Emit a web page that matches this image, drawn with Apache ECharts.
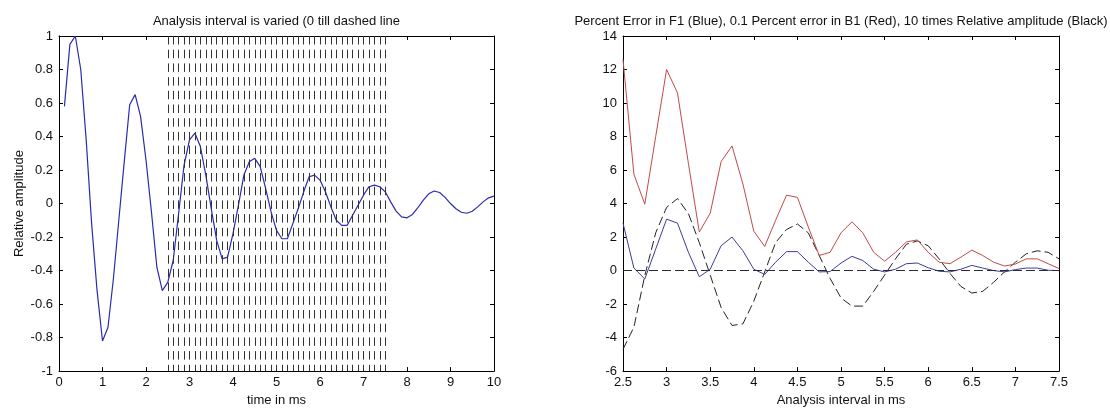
<!DOCTYPE html>
<html>
<head>
<meta charset="utf-8">
<script src="https://cdn.jsdelivr.net/npm/echarts@6/dist/echarts.min.js"></script>
<style>
html,body{margin:0;padding:0;background:#fff;}
#chart{width:1110px;height:412px;}
</style>
</head>
<body>
<div id="chart"></div>
<script>
// ---- Left panel data ----
const leftTitle = 'Analysis interval is varied (0 till dashed line';
const timeMs = [0.125,0.25,0.375,0.5,0.625,0.75,0.875,1,1.125,1.25,1.375,1.5,1.625,1.75,1.875,2,
  2.125,2.25,2.375,2.5,2.625,2.75,2.875,3,3.125,3.25,3.375,3.5,3.625,3.75,3.875,4,
  4.125,4.25,4.375,4.5,4.625,4.75,4.875,5,5.125,5.25,5.375,5.5,5.625,5.75,5.875,6,
  6.125,6.25,6.375,6.5,6.625,6.75,6.875,7,7.125,7.25,7.375,7.5,7.625,7.75,7.875,8,
  8.125,8.25,8.375,8.5,8.625,8.75,8.875,9,9.125,9.25,9.375,9.5,9.625,9.75,9.875,10];
const relAmplitude = [0.58,0.95,1.00,0.80,0.38,-0.12,-0.52,-0.82,-0.74,-0.45,-0.10,0.25,0.59,0.65,0.52,0.26,
  -0.05,-0.38,-0.52,-0.47,-0.34,-0.06,0.23,0.38,0.42,0.34,0.17,-0.03,-0.22,-0.33,-0.32,-0.18,
  -0.01,0.17,0.25,0.27,0.22,0.09,-0.05,-0.16,-0.21,-0.21,-0.12,-0.03,0.07,0.16,0.17,0.14,
  0.07,-0.02,-0.10,-0.13,-0.13,-0.07,-0.01,0.05,0.10,0.11,0.10,0.07,0.01,-0.045,-0.08,-0.085,
  -0.065,-0.025,0.02,0.058,0.075,0.066,0.037,0.0,-0.031,-0.052,-0.058,-0.046,-0.02,0.01,0.034,0.044];
const intervalEnds = [2.5,2.625,2.75,2.875,3,3.125,3.25,3.375,3.5,3.625,3.75,3.875,4,4.125,4.25,4.375,
  4.5,4.625,4.75,4.875,5,5.125,5.25,5.375,5.5,5.625,5.75,5.875,6,6.125,6.25,6.375,
  6.5,6.625,6.75,6.875,7,7.125,7.25,7.375,7.5];

// ---- Right panel data ----
const rightTitle = 'Percent Error in F1 (Blue), 0.1 Percent error in B1 (Red), 10 times Relative amplitude (Black)';
const analysisMs = [2.5,2.625,2.75,2.875,3,3.125,3.25,3.375,3.5,3.625,3.75,3.875,4,4.125,4.25,4.375,
  4.5,4.625,4.75,4.875,5,5.125,5.25,5.375,5.5,5.625,5.75,5.875,6,6.125,6.25,6.375,
  6.5,6.625,6.75,6.875,7,7.125,7.25,7.375,7.5];
const b1ErrorTenth = [12.6,5.75,3.96,8.0,12.0,10.6,6.4,2.3,3.42,6.5,7.44,5.17,2.35,1.44,3.0,4.5,
  4.37,2.6,0.9,1.09,2.25,2.91,2.25,1.09,0.56,1.09,1.71,1.83,1.09,0.5,0.41,0.8,
  1.22,0.9,0.5,0.27,0.39,0.7,0.7,0.41,0.12];
const f1Error = [2.83,0.15,-0.5,1.28,3.07,2.83,1.09,-0.37,0.08,1.48,2.0,1.18,0.08,-0.23,0.5,1.13,
  1.13,0.5,-0.08,-0.06,0.45,0.85,0.6,0.08,-0.08,0.08,0.41,0.45,0.17,-0.04,-0.08,0.08,
  0.31,0.15,0.0,-0.08,0.06,0.15,0.15,0.02,0.0];
const amplitudeTimes10 = [-4.7,-3.38,-0.3,2.25,3.77,4.3,3.4,1.67,-0.27,-2.2,-3.28,-3.18,-1.83,-0.08,1.67,2.45,
  2.78,2.25,0.9,-0.47,-1.63,-2.12,-2.12,-1.24,-0.27,0.7,1.57,1.77,1.48,0.7,-0.17,-0.95,
  -1.34,-1.24,-0.7,-0.08,0.5,1.0,1.18,1.09,0.7];

const leftXTicks = {min: 0, max: 10, interval: 1};
const leftYTicks = {min: -1, max: 1, interval: 0.2};
const rightXTicks = {min: 2.5, max: 7.5, interval: 0.5};
const rightYTicks = {min: -6, max: 14, interval: 2};

// ---- build ----
const FONT = '"Liberation Sans", Arial, Helvetica, sans-serif';
const FS = 13;
const TXT = '#111';
const pairs = (xs, ys) => xs.map((x, i) => [x, ys[i]]);
const fmt = v => String(+(+v).toFixed(2));

function axisPair(gridIndex, ticks, kind, name, nameGap) {
  const base = {
    type: 'value', gridIndex, min: ticks.min, max: ticks.max, interval: ticks.interval,
    axisLine: {show: true, onZero: false, lineStyle: {color: '#000', width: 1}},
    axisTick: {show: true, inside: true, length: 4, lineStyle: {color: '#000', width: 1}},
    splitLine: {show: false}
  };
  const main = Object.assign({}, base, {
    position: kind === 'x' ? 'bottom' : 'left',
    axisLabel: {show: true, color: TXT, fontFamily: FONT, fontSize: FS, margin: kind === 'x' ? 5 : 6, formatter: fmt,
      showMinLabel: true, showMaxLabel: true},
    name: name, nameLocation: 'middle', nameGap: nameGap,
    nameTextStyle: {color: TXT, fontFamily: FONT, fontSize: FS}
  });
  const mirror = Object.assign({}, base, {
    position: kind === 'x' ? 'top' : 'right',
    axisLabel: {show: false}
  });
  return [main, mirror];
}

const [lx0, lx1] = axisPair(0, leftXTicks, 'x', 'time in ms', 21);
const [ly0, ly1] = axisPair(0, leftYTicks, 'y', 'Relative amplitude', 33);
const [rx0, rx1] = axisPair(1, rightXTicks, 'x', 'Analysis interval in ms', 21);
const [ry0, ry1] = axisPair(1, rightYTicks, 'y', '', 30);

const option = {
  animation: false,
  backgroundColor: '#fff',
  textStyle: {fontFamily: FONT},
  grid: [
    {left: 59, top: 36, width: 435, height: 342, containLabel: false},
    {left: 623, top: 36, width: 436, height: 342, containLabel: false}
  ],
  xAxis: [lx0, lx1, rx0, rx1],
  yAxis: [ly0, ly1, ry0, ry1],
  graphic: [
    {type: 'text', x: 276.5, y: 21, style: {text: leftTitle, font: FS + 'px ' + FONT, fill: TXT,
      align: 'center', verticalAlign: 'middle', textAlign: 'center', textVerticalAlign: 'middle'}},
    {type: 'text', x: 841, y: 21, style: {text: rightTitle, font: FS + 'px ' + FONT, fill: TXT,
      align: 'center', verticalAlign: 'middle', textAlign: 'center', textVerticalAlign: 'middle'}}
  ],
  series: [
    {
      type: 'line', xAxisIndex: 0, yAxisIndex: 0, data: pairs(timeMs, relAmplitude),
      symbol: 'none', lineStyle: {color: '#2a2ab4', width: 1.2}, z: 3,
      markLine: {
        silent: true, symbol: ['none', 'none'], label: {show: false},
        lineStyle: {color: '#333', width: 1, type: [8.5, 5.2]},
        emphasis: {disabled: true},
        data: intervalEnds.map(x => [{coord: [x, leftYTicks.max]}, {coord: [x, leftYTicks.min]}])
      }
    },
    {
      type: 'line', xAxisIndex: 2, yAxisIndex: 2, data: pairs(analysisMs, amplitudeTimes10),
      symbol: 'none', lineStyle: {color: '#222', width: 1, type: [9, 4]}, z: 2,
      markLine: {
        silent: true, symbol: ['none', 'none'], label: {show: false},
        lineStyle: {color: '#2a2a3a', width: 1, type: [9, 4]},
        emphasis: {disabled: true},
        data: [{yAxis: 0}]
      }
    },
    {
      type: 'line', xAxisIndex: 2, yAxisIndex: 2, data: pairs(analysisMs, b1ErrorTenth),
      symbol: 'none', lineStyle: {color: '#c04a4a', width: 1}, z: 3
    },
    {
      type: 'line', xAxisIndex: 2, yAxisIndex: 2, data: pairs(analysisMs, f1Error),
      symbol: 'none', lineStyle: {color: '#3c3c9a', width: 1}, z: 4
    }
  ]
};

const chart = echarts.init(document.getElementById('chart'), null, {renderer: 'canvas'});
chart.setOption(option);
</script>
</body>
</html>
